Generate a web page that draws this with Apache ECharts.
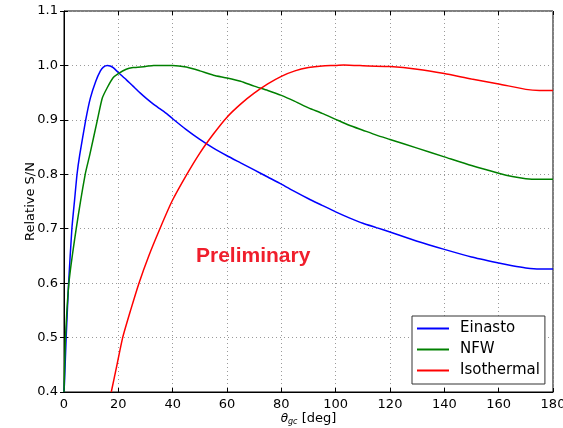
<!DOCTYPE html>
<html>
<head>
<meta charset="utf-8">
<script src="https://cdn.jsdelivr.net/npm/echarts@6/dist/echarts.min.js"></script>
<style>
  html, body { margin: 0; padding: 0; background: #fff; }
  #chart { width: 563px; height: 428px; }
</style>
</head>
<body>
<div id="chart"></div>
<script>
const xTicks = [0, 20, 40, 60, 80, 100, 120, 140, 160, 180];
const yTicks = [0.4, 0.5, 0.6, 0.7, 0.8, 0.9, 1.0, 1.1];

const einasto = [
  [0, 0.4], [0.2, 0.42], [0.8, 0.5], [1.7, 0.6], [2.9, 0.7], [3.9, 0.753],
  [4.8, 0.8], [5.8, 0.836], [8, 0.9], [9.7, 0.94], [11.7, 0.971], [13.4, 0.99],
  [14.5, 0.997], [16, 1.0], [17, 0.999], [18.1, 0.996], [20, 0.987], [22.9, 0.974],
  [25.4, 0.962], [27.9, 0.95], [30.4, 0.939], [32.9, 0.929], [35.4, 0.92],
  [37.9, 0.911], [40, 0.902], [45, 0.882], [50, 0.864], [55, 0.848], [60, 0.834],
  [65, 0.821], [70, 0.808], [75, 0.795], [80, 0.782], [85, 0.768], [90, 0.755],
  [95, 0.743], [100, 0.731], [105, 0.72], [110, 0.71], [115, 0.702], [120, 0.694],
  [130, 0.677], [140, 0.662], [150, 0.648], [160, 0.637], [165, 0.632],
  [170, 0.628], [175, 0.626], [180, 0.626]
];

const nfw = [
  [0, 0.4], [0.2, 0.44], [0.55, 0.5], [1.8, 0.6], [4.5, 0.7], [7.8, 0.8],
  [9.5, 0.836], [12.3, 0.9], [14.1, 0.94], [15.9, 0.959], [18, 0.977], [20, 0.985],
  [22.9, 0.993], [25.4, 0.996], [30, 0.998], [33, 1.0], [40, 1.0], [45, 0.997],
  [50, 0.99], [55, 0.982], [60, 0.977], [65, 0.971], [70, 0.962], [75, 0.954],
  [80, 0.945], [85, 0.934], [90, 0.922], [95, 0.912], [100, 0.901], [105, 0.89],
  [110, 0.881], [115, 0.872], [120, 0.864], [130, 0.848], [140, 0.832],
  [150, 0.816], [160, 0.802], [165, 0.796], [170, 0.792], [175, 0.791], [180, 0.791]
];

const isothermal = [
  [17.4, 0.4], [19.5, 0.45], [21.6, 0.5], [24.5, 0.55], [27.6, 0.6], [31.2, 0.65],
  [35.3, 0.7], [39.7, 0.75], [45, 0.798], [50, 0.839], [55, 0.874],
  [60, 0.905], [65, 0.929], [70, 0.949], [75, 0.966], [80, 0.98], [85, 0.99],
  [90, 0.996], [95, 0.999], [100, 1.0], [103, 1.001], [112, 0.999], [120, 0.998],
  [130, 0.993], [140, 0.985], [150, 0.975], [160, 0.966], [170, 0.956],
  [175, 0.954], [180, 0.954]
];

const chart = echarts.init(document.getElementById('chart'));
const font = 'DejaVu Sans';

const gridLine = { show: true, lineStyle: { color: '#9a9a9a', type: [1, 3], width: 1 } };

const option = {
  animation: false,
  textStyle: { fontFamily: font },
  grid: {
    left: 64, right: 10, top: 11, bottom: 36,
    outerBoundsMode: 'none', containLabel: false,
    show: true, borderColor: '#000', borderWidth: 1
  },
  xAxis: [{
    type: 'value', min: 0, max: 180, interval: 20,
    axisLine: { show: true, lineStyle: { color: '#000' } },
    axisTick: { inside: true, length: 4, lineStyle: { color: '#000' } },
    axisLabel: { color: '#000', fontSize: 13, margin: 6, formatter: v => xTicks.includes(v) ? String(v) : '' },
    splitLine: gridLine,
    name: '{t|θ}{s|gc} [deg]',
    nameLocation: 'middle', nameGap: 20, nameMoveOverlap: false,
    nameTextStyle: {
      color: '#000', fontSize: 13,
      rich: {
        t: { fontStyle: 'italic', fontSize: 12, color: '#000' },
        s: { fontStyle: 'italic', fontSize: 8, color: '#000', verticalAlign: 'bottom', padding: [6, 0, 0, 0] }
      }
    }
  }, {
    type: 'value', min: 0, max: 180, interval: 20, position: 'top',
    axisLine: { show: false },
    axisTick: { inside: true, length: 4, lineStyle: { color: '#000' } },
    axisLabel: { show: false }, splitLine: { show: false }
  }],
  yAxis: [{
    type: 'value', min: 0.4, max: 1.1, interval: 0.1,
    axisLine: { show: true, lineStyle: { color: '#000' } },
    axisTick: { inside: true, length: 4, lineStyle: { color: '#000' } },
    axisLabel: { color: '#000', fontSize: 13, margin: 6, formatter: v => v.toFixed(1) },
    splitLine: gridLine,
    name: 'Relative S/N', nameLocation: 'middle', nameGap: 27, nameMoveOverlap: false,
    nameTextStyle: { color: '#000', fontSize: 13 }
  }, {
    type: 'value', min: 0.4, max: 1.1, interval: 0.1, position: 'right',
    axisLine: { show: false },
    axisTick: { inside: true, length: 4, lineStyle: { color: '#000' } },
    axisLabel: { show: false }, splitLine: { show: false }
  }],
  legend: {
    orient: 'vertical', left: 412, top: 316,
    padding: [5, 5, 6, 5], itemGap: 6,
    itemWidth: 32, itemHeight: 2, icon: 'rect',
    backgroundColor: '#fff', borderColor: '#333', borderWidth: 1, borderRadius: 0,
    textStyle: { color: '#000', fontSize: 15, padding: [0, 0, 0, 6], fontFamily: font },
    data: ['Einasto', 'NFW', 'Isothermal']
  },
  graphic: [{
    type: 'text', left: 196, top: 246,
    style: { text: 'Preliminary', fill: '#f01e2c', font: 'bold 21px "Liberation Sans"' }
  }],
  series: [
    { name: 'Einasto', type: 'line', data: einasto, showSymbol: false, smooth: 0.2, color: '#0000ff', lineStyle: { width: 1.5 } },
    { name: 'NFW', type: 'line', data: nfw, showSymbol: false, smooth: 0.2, color: '#008000', lineStyle: { width: 1.5 } },
    { name: 'Isothermal', type: 'line', data: isothermal, showSymbol: false, smooth: 0.2, color: '#ff0000', lineStyle: { width: 1.5 } }
  ]
};

chart.setOption(option);
</script>
</body>
</html>
